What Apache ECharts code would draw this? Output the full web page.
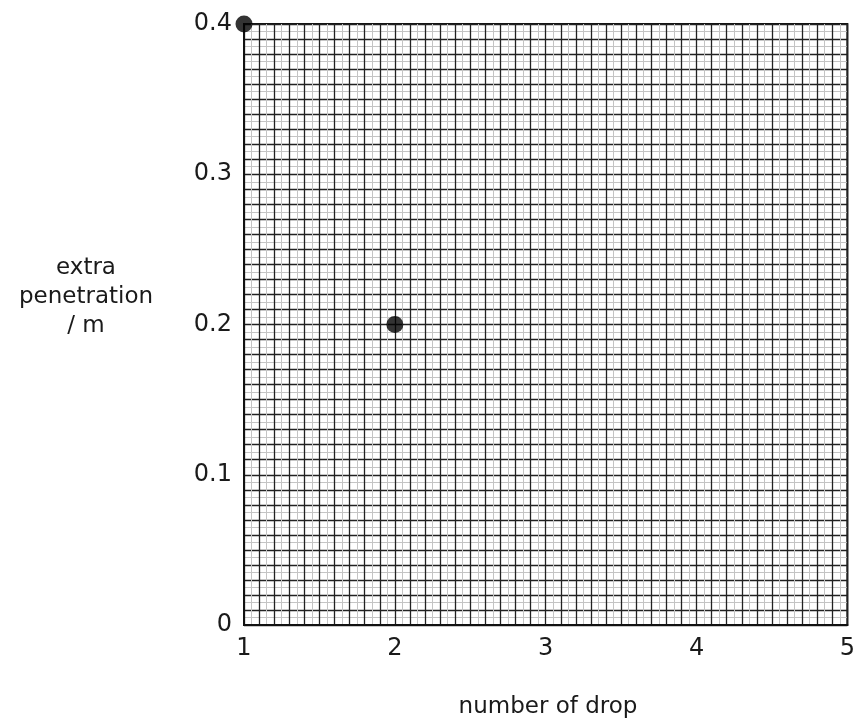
<!DOCTYPE html>
<html><head><meta charset="utf-8">
<script src="https://cdn.jsdelivr.net/npm/echarts@6/dist/echarts.min.js"></script>
<style>html,body{margin:0;padding:0;background:#fff}#c{width:858px;height:725px}</style>
</head><body><div id="c"></div>
<script>
const drops = [1, 2];
const penetration = [0.4, 0.2];
const xTickLabels = ['1', '2', '3', '4', '5'];
const yTickLabels = ['0', '0.1', '0.2', '0.3', '0.4'];
const xTitle = 'number of drop';
const yTitle = 'extra\npenetration\n/ m';

const chart = echarts.init(document.getElementById('c'));
const font = '"DejaVu Sans", sans-serif';
function near(v, step){ const k = Math.round(v/step); return Math.abs(v - k*step) < 1e-6 ? k : null; }
chart.setOption({
  backgroundColor: '#fff',
  animation: false,
  grid: { left: 244, right: 9, top: 24, bottom: 100, show: true, borderColor: '#111', borderWidth: 2, backgroundColor: 'transparent' },
  xAxis: {
    type: 'value', min: 1, max: 5, interval: 0.1,
    axisLine: { show: true, lineStyle: { color: '#111', width: 2 } },
    axisTick: { show: false },
    axisLabel: { fontFamily: font, fontSize: 24, color: '#1a1a1a', margin: 12,
      formatter: v => { const k = near(v - 1, 1); return k === null ? '' : xTickLabels[k]; } },
    splitLine: { show: true, lineStyle: { color: '#222', width: 1.3 } },
    minorTick: { show: false, splitNumber: 2 },
    minorSplitLine: { show: true, lineStyle: { color: '#c4c4c4', width: 1 } }
  },
  yAxis: {
    type: 'value', min: 0, max: 0.4, interval: 0.01,
    axisLine: { show: true, lineStyle: { color: '#111', width: 2 } },
    axisTick: { show: false },
    axisLabel: { fontFamily: font, fontSize: 24, color: '#1a1a1a', margin: 12,
      formatter: v => { const k = near(v, 0.1); return k === null ? '' : yTickLabels[k]; } },
    splitLine: { show: true, lineStyle: { color: '#222', width: 1.3 } },
    minorTick: { show: false, splitNumber: 2 },
    minorSplitLine: { show: true, lineStyle: { color: '#c4c4c4', width: 1 } }
  },
  graphic: [{
    type: 'text', x: 86, y: 297,
    style: { text: yTitle, textAlign: 'center', textVerticalAlign: 'middle', fontFamily: font, fontSize: 23, lineHeight: 29, fill: '#1a1a1a' }
  }, {
    type: 'text', x: 548, y: 707,
    style: { text: xTitle, textAlign: 'center', textVerticalAlign: 'middle', fontFamily: font, fontSize: 23, fill: '#1a1a1a' }
  }],
  series: [{
    type: 'scatter', data: drops.map((d, i) => [d, penetration[i]]),
    symbol: 'circle', symbolSize: 17, itemStyle: { color: '#000' }, clip: false, z: 10
  }]
});
</script></body></html>
